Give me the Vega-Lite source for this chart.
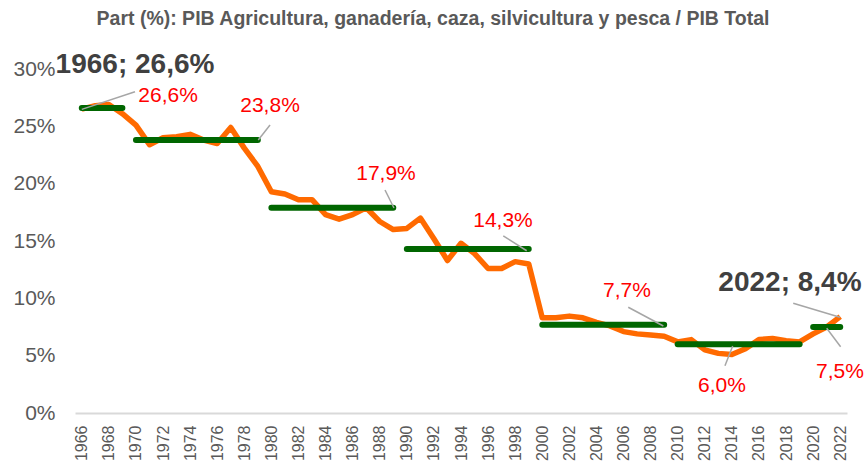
{
  "$schema": "https://vega.github.io/schema/vega-lite/v6.json",
  "width": 772,
  "height": 344,
  "autosize": {"type": "none"},
  "padding": {"left": 75, "top": 69, "right": 21, "bottom": 57},
  "background": "white",
  "config": {"view": {"stroke": null}, "font": "Liberation Sans"},
  "title": {
    "text": "Part (%): PIB Agricultura, ganadería, caza, silvicultura  y pesca / PIB Total",
    "fontSize": 19.5,
    "fontWeight": "bold",
    "color": "#595959",
    "font": "Liberation Sans",
    "anchor": "middle",
    "offset": 43,
    "dy": 22,
    "dx": -28
  },
  "datasets": {
    "series": [
      {"year": 1966, "value": 26.5}, {"year": 1967, "value": 26.8}, {"year": 1968, "value": 26.9}, {"year": 1969, "value": 26.1},
      {"year": 1970, "value": 25.1}, {"year": 1971, "value": 23.4}, {"year": 1972, "value": 24.0}, {"year": 1973, "value": 24.1},
      {"year": 1974, "value": 24.3}, {"year": 1975, "value": 23.8}, {"year": 1976, "value": 23.5}, {"year": 1977, "value": 24.9},
      {"year": 1978, "value": 23.1}, {"year": 1979, "value": 21.5}, {"year": 1980, "value": 19.3}, {"year": 1981, "value": 19.1},
      {"year": 1982, "value": 18.6}, {"year": 1983, "value": 18.6}, {"year": 1984, "value": 17.3}, {"year": 1985, "value": 16.9},
      {"year": 1986, "value": 17.3}, {"year": 1987, "value": 17.9}, {"year": 1988, "value": 16.7}, {"year": 1989, "value": 16.0},
      {"year": 1990, "value": 16.1}, {"year": 1991, "value": 17.0}, {"year": 1992, "value": 15.2}, {"year": 1993, "value": 13.3},
      {"year": 1994, "value": 14.8}, {"year": 1995, "value": 13.9}, {"year": 1996, "value": 12.6}, {"year": 1997, "value": 12.6},
      {"year": 1998, "value": 13.2}, {"year": 1999, "value": 13.0}, {"year": 2000, "value": 8.3}, {"year": 2001, "value": 8.3},
      {"year": 2002, "value": 8.45}, {"year": 2003, "value": 8.3}, {"year": 2004, "value": 7.9}, {"year": 2005, "value": 7.6},
      {"year": 2006, "value": 7.1}, {"year": 2007, "value": 6.9}, {"year": 2008, "value": 6.8}, {"year": 2009, "value": 6.7},
      {"year": 2010, "value": 6.2}, {"year": 2011, "value": 6.4}, {"year": 2012, "value": 5.5}, {"year": 2013, "value": 5.2},
      {"year": 2014, "value": 5.1}, {"year": 2015, "value": 5.6}, {"year": 2016, "value": 6.4}, {"year": 2017, "value": 6.5},
      {"year": 2018, "value": 6.3}, {"year": 2019, "value": 6.2}, {"year": 2020, "value": 6.9}, {"year": 2021, "value": 7.5},
      {"year": 2022, "value": 8.4}
    ],
    "periods": [
      {"start": 1966, "end": 1969, "avg": 26.6},
      {"start": 1970, "end": 1979, "avg": 23.8},
      {"start": 1980, "end": 1989, "avg": 17.9},
      {"start": 1990, "end": 1999, "avg": 14.3},
      {"start": 2000, "end": 2009, "avg": 7.7},
      {"start": 2010, "end": 2019, "avg": 6.0},
      {"start": 2020, "end": 2022, "avg": 7.5}
    ],
    "leaders": [
      {"x1": 1966.0, "y1": 26.48, "x2": 1969.93, "y2": 28.02},
      {"x1": 1979.03, "y1": 23.81, "x2": 1979.9, "y2": 25.12},
      {"x1": 1988.39, "y1": 19.45, "x2": 1989.05, "y2": 17.88},
      {"x1": 1997.12, "y1": 15.44, "x2": 1998.85, "y2": 14.15},
      {"x1": 2006.35, "y1": 9.22, "x2": 2008.94, "y2": 7.59},
      {"x1": 2013.49, "y1": 4.12, "x2": 2014.06, "y2": 5.84},
      {"x1": 2022.03, "y1": 5.78, "x2": 2021.0, "y2": 7.39},
      {"x1": 2018.53, "y1": 9.57, "x2": 2021.98, "y2": 8.35}
    ],
    "redLabels": [
      {"ly": 1972.37, "lv": 27.64, "text": "26,6%"},
      {"ly": 1979.9, "lv": 26.77, "text": "23,8%"},
      {"ly": 1988.46, "lv": 20.84, "text": "17,9%"},
      {"ly": 1997.1, "lv": 16.74, "text": "14,3%"},
      {"ly": 2006.26, "lv": 10.64, "text": "7,7%"},
      {"ly": 2013.27, "lv": 2.35, "text": "6,0%"},
      {"ly": 2021.98, "lv": 3.58, "text": "7,5%"}
    ],
    "boldLabels": [
      {"ly": 1969.93, "lv": 30.35, "text": "1966; 26,6%"},
      {"ly": 2018.29, "lv": 11.34, "text": "2022; 8,4%"}
    ]
  },
  "layer": [
    {
      "data": {"name": "series"},
      "mark": {"type": "line", "color": "#FF6A00", "strokeWidth": 5.5, "strokeJoin": "round"},
      "encoding": {
        "x": {
          "field": "year", "type": "quantitative",
          "scale": {"domain": [1965.5, 2022.5], "nice": false, "zero": false},
          "axis": {
            "title": null,
            "values": [1966,1968,1970,1972,1974,1976,1978,1980,1982,1984,1986,1988,1990,1992,1994,1996,1998,2000,2002,2004,2006,2008,2010,2012,2014,2016,2018,2020,2022],
            "tickCount": 60,
            "format": "d",
            "labelAngle": -90,
            "labelAlign": "right",
            "labelBaseline": "middle",
            "labelFontSize": 16,
            "labelColor": "#595959",
            "labelPadding": 12,
            "ticks": false,
            "grid": false,
            "domainColor": "#D9D9D9",
            "domainWidth": 2,
            "labelOverlap": false,
            "labelFlush": false
          }
        },
        "y": {
          "field": "value", "type": "quantitative",
          "scale": {"domain": [0, 30], "nice": false},
          "axis": {
            "title": null,
            "values": [0, 5, 10, 15, 20, 25, 30],
            "tickCount": 10,
            "labelExpr": "datum.value + '%'",
            "labelFontSize": 21,
            "labelColor": "#595959",
            "labelPadding": 20,
            "ticks": false,
            "domain": false,
            "grid": false
          }
        }
      }
    },
    {
      "data": {"name": "periods"},
      "mark": {"type": "rule", "color": "#006600", "strokeWidth": 6, "strokeCap": "round"},
      "encoding": {
        "x": {"field": "start", "type": "quantitative"},
        "x2": {"field": "end"},
        "y": {"field": "avg", "type": "quantitative"}
      }
    },
    {
      "data": {"name": "leaders"},
      "mark": {"type": "rule", "color": "#A6A6A6", "strokeWidth": 1.5},
      "encoding": {
        "x": {"field": "x1", "type": "quantitative"},
        "x2": {"field": "x2"},
        "y": {"field": "y1", "type": "quantitative"},
        "y2": {"field": "y2"}
      }
    },
    {
      "data": {"name": "redLabels"},
      "mark": {"type": "text", "color": "#FF0000", "fontSize": 21, "align": "center", "baseline": "middle", "font": "Liberation Sans"},
      "encoding": {
        "x": {"field": "ly", "type": "quantitative"},
        "y": {"field": "lv", "type": "quantitative"},
        "text": {"field": "text"}
      }
    },
    {
      "data": {"name": "boldLabels"},
      "mark": {"type": "text", "color": "#404040", "fontSize": 28, "fontWeight": "bold", "align": "center", "baseline": "middle", "font": "Liberation Sans"},
      "encoding": {
        "x": {"field": "ly", "type": "quantitative"},
        "y": {"field": "lv", "type": "quantitative"},
        "text": {"field": "text"}
      }
    }
  ]
}
